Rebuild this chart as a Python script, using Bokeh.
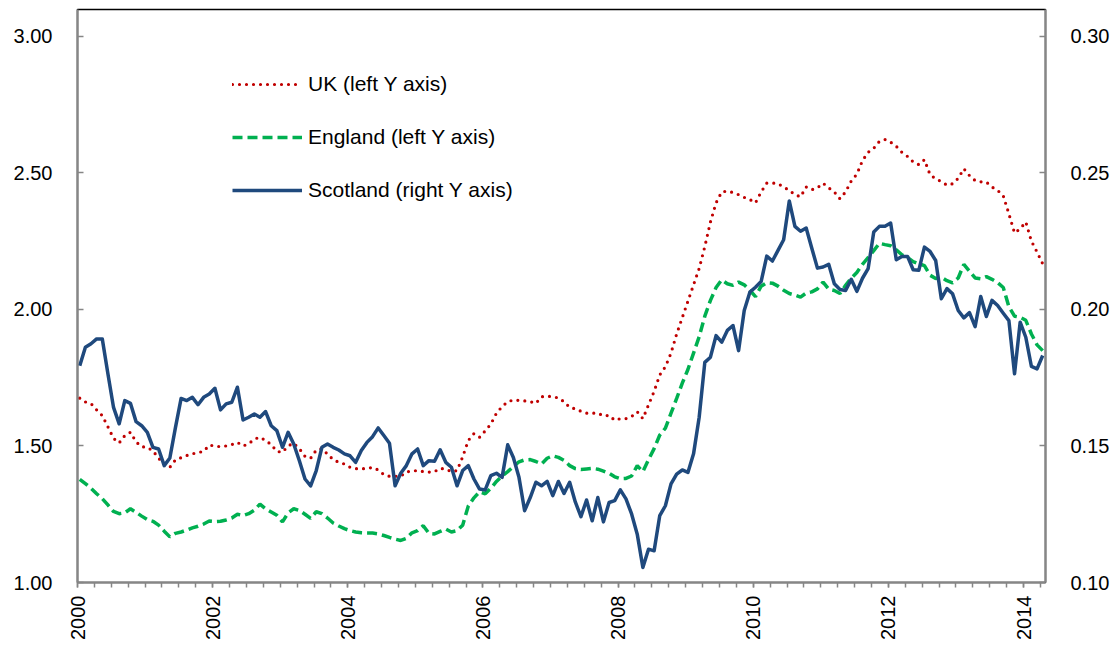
import numpy as np
from bokeh.plotting import figure
from bokeh.models import (Range1d, LinearAxis, FixedTicker, NumeralTickFormatter,
                          Legend, LegendItem)
from bokeh.embed import file_html
from bokeh.resources import INLINE

# ---------------- data (monthly, Jan 2000 - Apr 2014) ----------------
months = np.arange(172)
dates = 2000 + (months + 0.4) / 12.0

uk = [1.675, 1.661, 1.655, 1.632, 1.611, 1.570, 1.528, 1.511, 1.538, 1.550,
      1.515, 1.497, 1.495, 1.482, 1.455, 1.434, 1.422, 1.449, 1.457, 1.465,
      1.471, 1.476, 1.480, 1.503, 1.500, 1.497, 1.500, 1.505, 1.513, 1.500,
      1.508, 1.525, 1.532, 1.520, 1.505, 1.480, 1.477, 1.500, 1.510, 1.490,
      1.462, 1.455, 1.485, 1.490, 1.470, 1.450, 1.440, 1.434, 1.422, 1.417,
      1.416, 1.418, 1.421, 1.412, 1.395, 1.389, 1.389, 1.389, 1.405, 1.408,
      1.410, 1.406, 1.404, 1.406, 1.418, 1.415, 1.406, 1.410, 1.460, 1.520,
      1.545, 1.532, 1.555, 1.580, 1.620, 1.644, 1.662, 1.668, 1.667, 1.665,
      1.662, 1.656, 1.680, 1.682, 1.680, 1.676, 1.662, 1.641, 1.636, 1.627,
      1.620, 1.620, 1.620, 1.610, 1.612, 1.594, 1.600, 1.600, 1.608, 1.625,
      1.600, 1.650, 1.700, 1.760, 1.790, 1.840, 1.910, 1.970, 2.030, 2.090,
      2.150, 2.230, 2.320, 2.390, 2.430, 2.433, 2.428, 2.420, 2.410, 2.402,
      2.390, 2.430, 2.462, 2.463, 2.460, 2.448, 2.436, 2.420, 2.412, 2.448,
      2.438, 2.445, 2.462, 2.445, 2.430, 2.405, 2.430, 2.470, 2.495, 2.545,
      2.575, 2.590, 2.615, 2.622, 2.612, 2.597, 2.575, 2.560, 2.540, 2.530,
      2.548, 2.493, 2.478, 2.468, 2.455, 2.460, 2.480, 2.515, 2.490, 2.472,
      2.467, 2.466, 2.448, 2.436, 2.416, 2.350, 2.280, 2.295, 2.320, 2.250,
      2.210, 2.167]

england = [1.378, 1.362, 1.345, 1.325, 1.307, 1.284, 1.260, 1.252, 1.255, 1.270,
           1.257, 1.243, 1.230, 1.224, 1.210, 1.188, 1.167, 1.180, 1.185, 1.192,
           1.200, 1.206, 1.214, 1.225, 1.223, 1.224, 1.229, 1.236, 1.250, 1.245,
           1.252, 1.265, 1.287, 1.270, 1.258, 1.246, 1.222, 1.255, 1.270, 1.264,
           1.250, 1.235, 1.259, 1.252, 1.236, 1.218, 1.207, 1.197, 1.190, 1.185,
           1.182, 1.181, 1.181, 1.178, 1.172, 1.165, 1.159, 1.154, 1.162, 1.182,
           1.190, 1.208, 1.180, 1.178, 1.187, 1.196, 1.185, 1.190, 1.210, 1.280,
           1.310, 1.332, 1.325, 1.345, 1.370, 1.390, 1.406, 1.424, 1.442, 1.449,
           1.450, 1.443, 1.434, 1.455, 1.464, 1.458, 1.447, 1.428, 1.417, 1.414,
           1.416, 1.418, 1.415, 1.408, 1.400, 1.387, 1.380, 1.381, 1.390, 1.428,
           1.406, 1.450, 1.490, 1.540, 1.565, 1.620, 1.674, 1.730, 1.780, 1.840,
           1.900, 1.975, 2.033, 2.080, 2.108, 2.094, 2.088, 2.100, 2.090, 2.070,
           2.047, 2.085, 2.098, 2.096, 2.085, 2.070, 2.058, 2.052, 2.045, 2.060,
           2.064, 2.075, 2.100, 2.074, 2.069, 2.058, 2.088, 2.114, 2.135, 2.165,
           2.190, 2.215, 2.242, 2.237, 2.233, 2.218, 2.200, 2.190, 2.175, 2.167,
           2.160, 2.125, 2.113, 2.118, 2.105, 2.097, 2.115, 2.165, 2.140, 2.115,
           2.112, 2.120, 2.110, 2.098, 2.080, 2.010, 1.975, 1.971, 1.960, 1.910,
           1.870, 1.849]

scotland = [0.1794, 0.1861, 0.1874, 0.1892, 0.1892, 0.1764, 0.1641, 0.1581, 0.1666, 0.1656,
            0.1589, 0.1574, 0.1550, 0.1495, 0.1489, 0.1428, 0.1456, 0.1568, 0.1674, 0.1666,
            0.1678, 0.1651, 0.1678, 0.1690, 0.1711, 0.1632, 0.1654, 0.1660, 0.1715, 0.1595,
            0.1605, 0.1617, 0.1605, 0.1626, 0.1574, 0.1556, 0.1495, 0.1550, 0.1507, 0.1446,
            0.1379, 0.1354, 0.1410, 0.1495, 0.1507, 0.1495, 0.1485, 0.1471, 0.1464, 0.1440,
            0.1483, 0.1513, 0.1534, 0.1566, 0.1538, 0.1510, 0.1354, 0.1400, 0.1428, 0.1471,
            0.1489, 0.1428, 0.1446, 0.1444, 0.1486, 0.1440, 0.1422, 0.1354, 0.1410, 0.1428,
            0.1379, 0.1342, 0.1339, 0.1391, 0.1400, 0.1385, 0.1504, 0.1458, 0.1385, 0.1263,
            0.1311, 0.1367, 0.1354, 0.1370, 0.1318, 0.1370, 0.1326, 0.1367, 0.1295, 0.1241,
            0.1302, 0.1226, 0.1311, 0.1222, 0.1293, 0.1300, 0.1339, 0.1306, 0.1251, 0.1177,
            0.1055, 0.1122, 0.1116, 0.1245, 0.1281, 0.1361, 0.1397, 0.1412, 0.1403, 0.1471,
            0.1605, 0.1806, 0.1825, 0.1904, 0.1880, 0.1923, 0.1941, 0.1849, 0.1996, 0.2063,
            0.2081, 0.2102, 0.2195, 0.2177, 0.2216, 0.2255, 0.2397, 0.2304, 0.2286, 0.2298,
            0.2224, 0.2151, 0.2155, 0.2165, 0.2094, 0.2073, 0.2069, 0.2110, 0.2066, 0.2114,
            0.2149, 0.2283, 0.2304, 0.2304, 0.2316, 0.2182, 0.2194, 0.2194, 0.2145, 0.2143,
            0.2228, 0.2212, 0.2179, 0.2039, 0.2076, 0.2057, 0.1996, 0.1969, 0.1988, 0.1937,
            0.2047, 0.1974, 0.2033, 0.2014, 0.1986, 0.1959, 0.1764, 0.1953, 0.1898, 0.1791,
            0.1782, 0.1831]

year_ticks = [2000, 2002, 2004, 2006, 2008, 2010, 2012, 2014]
left_ticks = [1.0, 1.5, 2.0, 2.5, 3.0]
right_ticks = [0.10, 0.15, 0.20, 0.25, 0.30]
labels = ["UK (left Y axis)", "England (left Y axis)", "Scotland (right Y axis)"]

# ---------------- figure ----------------
FONT = "Liberation Sans"
AXIS_GREY = "#868686"

p = figure(width=1120, height=648, output_backend="svg", toolbar_location=None,
           x_range=Range1d(2000, 2014.325), y_range=Range1d(1.0, 3.098),
           min_border_left=77, min_border_right=75, min_border_top=9,
           min_border_bottom=66)
p.xaxis.visible = False
p.yaxis.visible = False
p.xgrid.visible = False
p.ygrid.visible = False
p.outline_line_color = "black"
p.outline_line_width = 1.5
p.background_fill_color = "white"
p.border_fill_color = "white"

p.extra_y_ranges = {"right": Range1d(0.10, 0.3098)}

def style_axis(ax):
    ax.axis_line_color = AXIS_GREY
    ax.axis_line_width = 2
    ax.major_tick_line_color = AXIS_GREY
    ax.minor_tick_line_color = AXIS_GREY
    ax.major_tick_line_width = 1.5
    ax.minor_tick_line_width = 1.5
    ax.major_label_text_font = FONT
    ax.major_label_text_font_size = "20px"
    ax.major_label_text_color = "black"

xax = LinearAxis(ticker=FixedTicker(ticks=year_ticks,
                                    minor_ticks=list(np.arange(2000, 2014.4, 0.25))))
style_axis(xax)
xax.major_tick_in = 0
xax.major_tick_out = 5
xax.minor_tick_in = 0
xax.minor_tick_out = 5
xax.major_label_orientation = np.pi / 2
xax.major_label_standoff = 8
p.add_layout(xax, "below")

lax = LinearAxis(ticker=FixedTicker(ticks=left_ticks, minor_ticks=[]),
                 formatter=NumeralTickFormatter(format="0.00"))
style_axis(lax)
lax.major_tick_in = 6
lax.major_tick_out = 0
lax.minor_tick_line_color = None
lax.major_label_standoff = 25
p.add_layout(lax, "left")

rax = LinearAxis(y_range_name="right",
                 ticker=FixedTicker(ticks=right_ticks, minor_ticks=[]),
                 formatter=NumeralTickFormatter(format="0.00"))
style_axis(rax)
rax.major_tick_in = 6
rax.major_tick_out = 0
rax.minor_tick_line_color = None
rax.major_label_standoff = 25
p.add_layout(rax, "right")

r_uk = p.line(dates, uk, line_color="#C00000", line_width=3.2,
              line_dash="0 7", line_cap="round")
r_en = p.line(dates, england, line_color="#00B050", line_width=3.5,
              line_dash="10 5")
r_sc = p.line(dates, scotland, line_color="#1F497D", line_width=3.5,
              y_range_name="right", line_join="round")

legend = Legend(items=[LegendItem(label=labels[0], renderers=[r_uk]),
                       LegendItem(label=labels[1], renderers=[r_en]),
                       LegendItem(label=labels[2], renderers=[r_sc])],
                location=(155, 380), orientation="vertical",
                glyph_width=70, glyph_height=20, label_height=20,
                label_standoff=6, spacing=29, padding=0, margin=0,
                border_line_color=None, background_fill_alpha=0,
                label_text_font=FONT, label_text_font_size="21px",
                label_text_color="black")
p.add_layout(legend, "center")

open("out.html", "w").write(file_html(p, INLINE))
